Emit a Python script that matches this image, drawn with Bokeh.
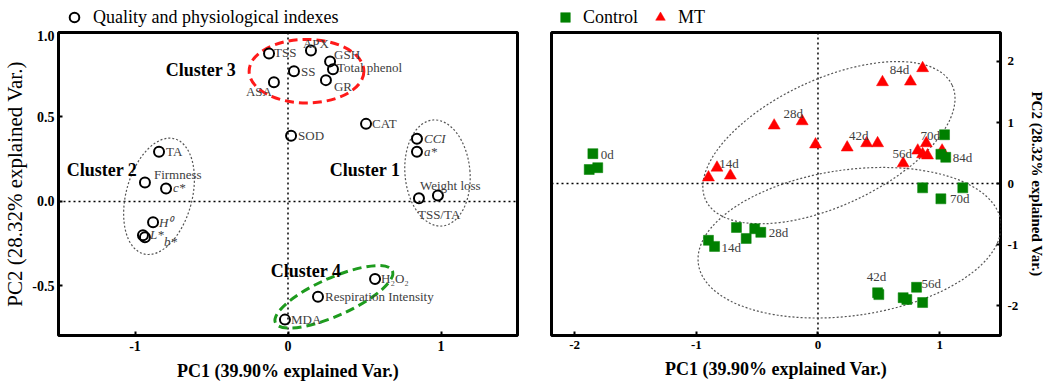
import math
from bokeh.plotting import figure
from bokeh.models import (Range1d, FixedTicker, PrintfTickFormatter, Span, Label,
                          Legend, LegendItem, ColumnDataSource)
from bokeh.layouts import row, column
from bokeh.core.properties import value
from bokeh.embed import file_html
from bokeh.resources import INLINE

SERIF = "Liberation Serif"
TXT = "#404040"

# ---------------- Left panel data: variable loadings ----------------
var_names = ["TSS", "APX", "GSH", "Total phenol", "SS", "GR", "ASA", "CAT", "SOD",
             "TA", "Firmness", "c*", "H⁰", "L*", "b*", "CCI", "a*",
             "Weight loss", "TSS/TA", "H₂O₂", "Respiration Intensity", "MDA"]
pc1_loading = [-0.124, 0.150, 0.275, 0.294, 0.039, 0.248, -0.092, 0.510, 0.020,
               -0.843, -0.935, -0.797, -0.882, -0.948, -0.935, 0.843, 0.843,
               0.980, 0.856, 0.569, 0.196, -0.020]
pc2_loading = [0.876, 0.894, 0.829, 0.782, 0.771, 0.718, 0.706, 0.459, 0.388,
               0.294, 0.112, 0.076, -0.124, -0.200, -0.212, 0.371, 0.294,
               0.035, 0.018, -0.459, -0.565, -0.700]
italic_vars = ["c*", "H⁰", "L*", "b*", "CCI", "a*"]

cluster_names = ["Cluster 1", "Cluster 2", "Cluster 3", "Cluster 4"]

# ---------------- Right panel data: sample scores ----------------
ctrl_days = ["0d"] * 3 + ["14d"] * 3 + ["28d"] * 3 + ["42d"] * 2 + ["56d"] * 4 + ["70d"] * 3 + ["84d"] * 3
ctrl_pc1 = [-1.85, -1.88, -1.81, -0.90, -0.85, -0.67, -0.52, -0.47, -0.59,
            0.49, 0.50, 0.81, 0.70, 0.73, 0.86, 0.86, 1.19, 1.01, 1.04, 1.01, 1.05]
ctrl_pc2 = [0.49, 0.23, 0.26, -0.93, -1.03, -0.72, -0.74, -0.80, -0.90,
            -1.79, -1.82, -1.70, -1.87, -1.90, -1.95, -0.07, -0.07, -0.25, 0.80, 0.48, 0.43]

mt_days = ["14d"] * 3 + ["28d"] * 3 + ["42d"] * 3 + ["56d"] * 3 + ["70d"] * 3 + ["84d"] * 3
mt_pc1 = [-0.83, -0.90, -0.72, -0.36, -0.13, -0.02, 0.24, 0.40, 0.49,
          0.70, 0.82, 0.86, 0.89, 0.90, 1.02, 0.53, 0.76, 0.86]
mt_pc2 = [0.26, 0.10, 0.13, 0.95, 1.02, 0.64, 0.59, 0.66, 0.66,
          0.33, 0.54, 0.48, 0.66, 0.46, 0.54, 1.66, 1.67, 1.89]


def style_axes(p, tick_size, xlab_size, ylab_size, ylab_style="bold"):
    p.xgrid.visible = False
    p.ygrid.visible = False
    p.outline_line_color = "black"
    p.outline_line_width = 3
    p.outline_line_alpha = 1
    for ax in p.xaxis + p.yaxis:
        ax.axis_line_color = None
        ax.major_tick_in = 4
        ax.major_tick_out = 0
        ax.minor_tick_line_color = None
        ax.major_tick_line_color = "black"
        ax.major_tick_line_width = 2
        ax.major_label_text_font = SERIF
        ax.major_label_text_font_style = "bold"
        ax.major_label_text_font_size = tick_size
        ax.major_label_text_color = "black"
        ax.axis_label_text_font = SERIF
        ax.axis_label_text_color = "black"
    for ax in p.xaxis:
        ax.axis_label_text_font_size = xlab_size
        ax.axis_label_text_font_style = "bold"
        ax.major_label_standoff = 5
        ax.axis_label_standoff = 7
    for ax in p.yaxis:
        ax.axis_label_text_font_size = ylab_size
        ax.axis_label_text_font_style = ylab_style


def legend_strip(width):
    """A thin figure that only hosts a legend (its frame lines up with the panel below)."""
    f = figure(width=width, height=30, output_backend="svg", toolbar_location=None,
               x_range=Range1d(0, 1), y_range=Range1d(0, 1),
               x_axis_type=None, y_axis_type=None,
               min_border_left=0, min_border_right=0, min_border_top=0, min_border_bottom=0,
               background_fill_color="white", border_fill_color="white")
    f.outline_line_color = None
    f.xgrid.visible = False
    f.ygrid.visible = False
    return f


# ======================= LEFT FIGURE =======================
p1 = figure(width=520, height=353, output_backend="svg", toolbar_location=None,
            x_range=Range1d(-1.5, 1.5), y_range=Range1d(-0.794, 1.0),
            min_border_left=57, min_border_right=3, min_border_top=2, min_border_bottom=46,
            background_fill_color="white", border_fill_color="white")
p1.xaxis.axis_label = "PC1 (39.90% explained Var.)"
p1.yaxis.axis_label = "PC2 (28.32% explained Var.)"
p1.xaxis.ticker = FixedTicker(ticks=[-1, 0, 1])
p1.xaxis.formatter = PrintfTickFormatter(format="%d")
p1.yaxis.ticker = FixedTicker(ticks=[-0.5, 0.0, 0.5, 1.0])
p1.yaxis.formatter = PrintfTickFormatter(format="%.1f")
style_axes(p1, "14px", "18px", "21px", ylab_style="normal")
p1.yaxis.major_label_standoff = 4
p1.yaxis.axis_label_standoff = 2

for dim in ("width", "height"):
    p1.add_layout(Span(location=0, dimension=dim, line_color="black", line_width=1.5,
                       line_dash="2 3", level="underlay"))

# cluster ellipses (center, size in data units, angle)
gray_ell = dict(x=[0.977, -0.843], y=[0.168, 0.03], w=[0.425, 0.431], h=[0.63, 0.706],
                a=[math.radians(5), math.radians(-15)])
p1.ellipse(x=gray_ell["x"], y=gray_ell["y"], width=gray_ell["w"], height=gray_ell["h"],
           angle=gray_ell["a"], fill_color=None, line_color="#555555", line_width=1.2,
           line_dash="2 2")
p1.ellipse(x=[0.121], y=[0.771], width=[0.75], height=[0.376], angle=[0.0],
           fill_color=None, line_color="#ff1a1a", line_width=3, line_dash="9 5")
p1.ellipse(x=[0.30], y=[-0.565], width=[0.837], height=[0.224], angle=[math.radians(24)],
           fill_color=None, line_color="#1e9b1e", line_width=3, line_dash="9 5")

# per-label placement (screen-pixel offsets)
lab_align = ["left", "center", "left", "left", "left", "left", "right", "left", "left",
             "left", "left", "left", "left", "left", "left", "left", "left",
             "left", "left", "left", "left", "left"]
lab_dx = [5, 5, 4, 4, 7, 8, -2, 6, 7, 7, 9, 7, 6, 7, 19, 7, 7, -18, -1, 6, 7, 6]
lab_dy = [-1, -7, -7, -2, 0, 6, 9, 0, 0, 0, -8, -1, 0, -1, 4, 0, 0, -10, 16, 0, 0, 0]
src1 = ColumnDataSource(dict(
    x=pc1_loading, y=pc2_loading, name=var_names,
    align=lab_align, dx=lab_dx, dy=lab_dy,
    style=["italic" if n in italic_vars else "normal" for n in var_names]))

circle_style = dict(marker="circle", size=10, fill_color=None, line_color="black", line_width=2)
p1.scatter("x", "y", source=src1, **circle_style)
p1.text("x", "y", text="name", source=src1, x_offset="dx", y_offset="dy",
        text_align="align", text_baseline="middle", text_font=value(SERIF),
        text_font_size="13px", text_color=TXT, text_font_style="style")

cluster_pos = {"Cluster 1": (0.503, 0.188), "Cluster 2": (-1.216, 0.188),
               "Cluster 3": (-0.569, 0.776), "Cluster 4": (0.118, -0.41)}
for cname in cluster_names:
    cx, cy = cluster_pos[cname]
    p1.add_layout(Label(x=cx, y=cy, text=cname, text_align="center", text_baseline="middle",
                        text_font=SERIF, text_font_size="18px", text_font_style="bold",
                        text_color="black"))

# legend strip above the left panel
lg1 = legend_strip(520)
r_leg_c = lg1.scatter(x=[-10], y=[-10], **circle_style)
lg1.add_layout(Legend(items=[LegendItem(label="Quality and physiological indexes", renderers=[r_leg_c])],
                      location=(0, 1), orientation="horizontal", margin=0, padding=0,
                      glyph_width=32, glyph_height=24, label_height=24, label_standoff=3, spacing=0,
                      border_line_color=None, background_fill_alpha=0,
                      label_text_font=SERIF, label_text_font_size="18px", label_text_color="black"))

# ======================= RIGHT FIGURE =======================
p2 = figure(width=528, height=353, output_backend="svg", toolbar_location=None,
            x_range=Range1d(-2.19, 1.5), y_range=Range1d(-2.49, 2.475),
            y_axis_location="right",
            min_border_left=31, min_border_right=42, min_border_top=2, min_border_bottom=48,
            background_fill_color="white", border_fill_color="white")
p2.xaxis.axis_label = "PC1 (39.90% explained Var.)"
p2.yaxis.axis_label = "PC2 (28.32% explained Var.)"
p2.xaxis.ticker = FixedTicker(ticks=[-2, -1, 0, 1])
p2.xaxis.formatter = PrintfTickFormatter(format="%d")
p2.yaxis.ticker = FixedTicker(ticks=[-2, -1, 0, 1, 2])
p2.yaxis.formatter = PrintfTickFormatter(format="%d")
style_axes(p2, "13px", "18px", "15px", ylab_style="bold")
p2.yaxis.major_label_standoff = 7
p2.yaxis.axis_label_standoff = 8

for dim in ("width", "height"):
    p2.add_layout(Span(location=0, dimension=dim, line_color="black", line_width=1.5,
                       line_dash="2 3", level="underlay"))

p2.ellipse(x=[0.09, 0.26], y=[0.67, -0.97], width=[2.235, 2.51], height=[2.07, 2.39],
           angle=[math.radians(25), math.radians(8)], fill_color=None,
           line_color="#555555", line_width=1.2, line_dash="2 2")

mt_style = dict(marker="triangle", size=12, fill_color="#ff0000", line_color="#ff0000", line_width=0.5)
ct_style = dict(marker="square", size=10, fill_color="#008000", line_color="#008000", line_width=0.5)
src_mt = ColumnDataSource(dict(x=mt_pc1, y=mt_pc2, day=mt_days))
src_ct = ColumnDataSource(dict(x=ctrl_pc1, y=ctrl_pc2, day=ctrl_days))
p2.scatter("x", "y", source=src_mt, **mt_style)
p2.scatter("x", "y", source=src_ct, **ct_style)

# day labels: (anchor index, align, dx, dy)
ctrl_lab = [(0, "left", 8, 1), (4, "left", 7, 1), (7, "left", 8, 0), (9, "center", -1, -16),
            (11, "left", 5, -4), (17, "left", 9, 0), (20, "left", 7, 0)]
mt_lab = [(0, "center", 12, -4), (4, "center", -9, -8), (7, "center", -8, -8),
          (9, "center", -1, -10), (12, "center", 4, -8), (15, "center", 17, -13)]
lx, ly, lt, la, ldx, ldy = [], [], [], [], [], []
for (i, al, dx, dy) in ctrl_lab:
    lx.append(ctrl_pc1[i]); ly.append(ctrl_pc2[i]); lt.append(ctrl_days[i])
    la.append(al); ldx.append(dx); ldy.append(dy)
for (i, al, dx, dy) in mt_lab:
    lx.append(mt_pc1[i]); ly.append(mt_pc2[i]); lt.append(mt_days[i])
    la.append(al); ldx.append(dx); ldy.append(dy)
src_lab = ColumnDataSource(dict(x=lx, y=ly, t=lt, a=la, dx=ldx, dy=ldy))
p2.text("x", "y", text="t", source=src_lab, x_offset="dx", y_offset="dy", text_align="a",
        text_baseline="middle", text_font=value(SERIF), text_font_size="13px", text_color=TXT)

lg2 = legend_strip(528)
r_leg_ct = lg2.scatter(x=[-10], y=[-10], **ct_style)
r_leg_mt = lg2.scatter(x=[-10], y=[-10], **mt_style)
lg2.add_layout(Legend(items=[LegendItem(label="Control", renderers=[r_leg_ct]),
                             LegendItem(label="MT", renderers=[r_leg_mt])],
                      location=(0, 1), orientation="horizontal", margin=0, padding=0,
                      glyph_width=28, glyph_height=24, label_height=24, label_standoff=4, spacing=8,
                      border_line_color=None, background_fill_alpha=0,
                      label_text_font=SERIF, label_text_font_size="18px", label_text_color="black"))

layout = row(column(lg1, p1), column(lg2, p2))
open("out.html", "w").write(file_html(layout, INLINE))
